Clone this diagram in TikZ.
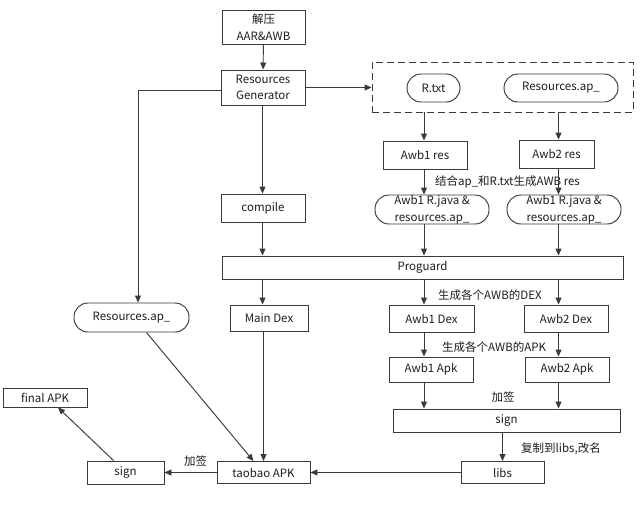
\documentclass[tikz,border=0pt]{standalone}
\usepackage{fontspec}
\setmainfont{Noto Sans CJK SC}
\usetikzlibrary{arrows.meta,calc}
\definecolor{ln}{HTML}{3A3A3A}
\definecolor{tx}{HTML}{1E1E1E}
\tikzset{
  box/.style={draw=ln, line width=0.95pt, inner sep=0pt, align=center, text=tx,
    font=\fontsize{11.5}{16.5}\selectfont},
  pill/.style={box, rounded corners=14pt},
  lbl/.style={inner sep=0pt, text=tx, font=\fontsize{11.5}{14}\selectfont},
  arr/.style={draw=ln, line width=0.95pt, -{Triangle[length=7pt,width=6pt]}},
  dbox/.style={draw=ln, line width=0.95pt, dash pattern=on 7pt off 4pt, inner sep=0pt}
}
\begin{document}
\begin{tikzpicture}[x=1pt,y=-1pt]
\useasboundingbox[fill=white] (0,0) rectangle (640,507);
% nodes
\node[box, minimum width=83pt, minimum height=34pt] (unz) at (263.5,27) {解压\\AAR\&AWB};
\node[box, minimum width=84pt, minimum height=35pt] (rg) at (263,87.5) {Resources\\Generator};
\node[dbox, minimum width=261pt, minimum height=50pt] (dash) at (502.5,87) {};
\node[pill, minimum width=53pt, minimum height=28pt] (rtxt) at (433.5,88) {R.txt};
\node[pill, minimum width=114pt, minimum height=28pt] (resapT) at (561,88) {Resources.ap\_};
\node[box, minimum width=84pt, minimum height=28pt] (a1res) at (425,155) {Awb1 res};
\node[box, minimum width=75pt, minimum height=28pt] (a2res) at (556.5,154) {Awb2 res};
\node[lbl, anchor=west] (l1) at (435,182) {结合ap\_和R.txt生成AWB res};
\node[pill, minimum width=114pt, minimum height=29pt] (a1rj) at (432,209.5) {Awb1 R.java \&\\resources.ap\_};
\node[pill, minimum width=114pt, minimum height=29pt] (a2rj) at (564,209.5) {Awb1 R.java \&\\resources.ap\_};
\node[box, minimum width=84pt, minimum height=28pt] (comp) at (263,208) {compile};
\node[box, minimum width=401pt, minimum height=23pt] (prog) at (422.5,267.5) {Proguard};
\node[pill, minimum width=115pt, minimum height=29pt] (resapL) at (131.5,317.5) {Resources.ap\_};
\node[box, minimum width=78pt, minimum height=26pt] (md) at (269,318) {Main Dex};
\node[box, minimum width=85pt, minimum height=27pt] (a1dex) at (431.5,318.5) {Awb1 Dex};
\node[box, minimum width=84pt, minimum height=27pt] (a2dex) at (566,318.5) {Awb2 Dex};
\node[lbl, anchor=west] (l2) at (438,295) {生成各个AWB的DEX};
\node[box, minimum width=84pt, minimum height=25pt] (a1apk) at (431,369.5) {Awb1 Apk};
\node[box, minimum width=84pt, minimum height=25pt] (a2apk) at (567,369.5) {Awb2 Apk};
\node[lbl, anchor=west] (l3) at (442,347) {生成各个AWB的APK};
\node[lbl] (l4) at (503,397) {加签};
\node[box, minimum width=227pt, minimum height=23pt] (sgr) at (506.5,420.5) {sign};
\node[lbl, anchor=west] (l5) at (521,449) {复制到libs,改名};
\node[box, minimum width=83pt, minimum height=22pt] (libs) at (502.5,472.5) {libs};
\node[box, minimum width=93pt, minimum height=22pt] (tb) at (263.5,472.5) {taobao APK};
\node[box, minimum width=77pt, minimum height=23pt] (sgl) at (125.5,472.5) {sign};
\node[lbl] (l6) at (195.5,461) {加签};
\node[box, minimum width=84pt, minimum height=19pt] (fin) at (45,397.5) {final APK};
% column coordinates
\coordinate (c0) at (262.5,0);
\coordinate (c1) at (424,0);
\coordinate (c2) at (558.5,0);
% connectors
\draw[arr] (unz) -- (rg);
\draw[arr] (rg.east) -- (rg.east -| dash.west);
\draw[arr] ($(rg.west)+(0,3)$) -| ($(resapL.north)+(6.5,0)$);
\draw[arr] (rg.south -| c0) -- (comp.north -| c0);
\draw[arr] (comp.south -| c0) -- (prog.north -| c0);
\draw[arr] (dash.south -| c1) -- (a1res.north -| c1);
\draw[arr] (dash.south -| c2) -- (a2res.north -| c2);
\draw[arr] (a1res.south -| c1) -- (a1rj.north -| c1);
\draw[arr] (a2res.south -| c2) -- (a2rj.north -| c2);
\draw[arr] (a1rj.south -| c1) -- (prog.north -| c1);
\draw[arr] (a2rj.south -| c2) -- (prog.north -| c2);
\draw[arr] (prog.south -| c0) -- (md.north -| c0);
\draw[arr] (prog.south -| c1) -- (a1dex.north -| c1);
\draw[arr] (prog.south -| c2) -- (a2dex.north -| c2);
\draw[arr] (a1dex.south -| c1) -- (a1apk.north -| c1);
\draw[arr] (a2dex.south -| c2) -- (a2apk.north -| c2);
\draw[arr] (a1apk.south -| c1) -- (sgr.north -| c1);
\draw[arr] (a2apk.south -| c2) -- (sgr.north -| c2);
\draw[arr] (sgr.south -| libs) -- (libs.north);
\draw[arr] (libs.west) -- (tb.east);
\draw[arr] (md.south -| tb) -- (tb.north);
\draw[arr] ($(resapL.south)+(15,0)$) -- ($(tb.north)+(-10,0)$);
\draw[arr] (tb.west) -- (sgl.east);
\draw[arr] ($(sgl.north)+(-12,0)$) -- ($(fin.south)+(13,0)$);
\end{tikzpicture}
\end{document}
